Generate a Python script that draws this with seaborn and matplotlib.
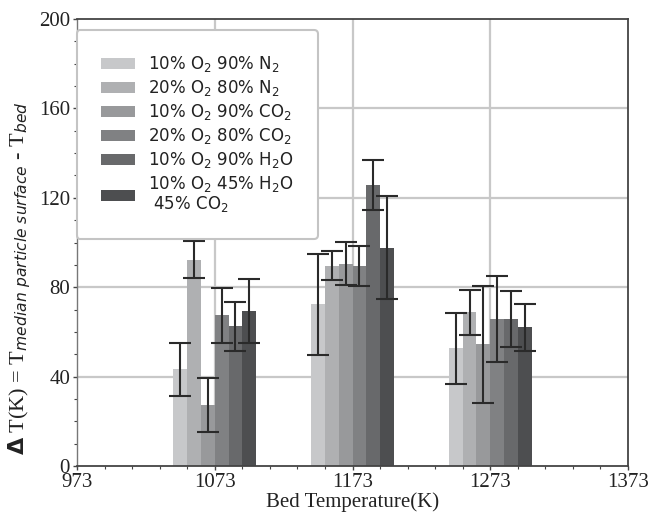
import matplotlib
matplotlib.use("Agg")
import matplotlib.pyplot as plt
import seaborn as sns
import pandas as pd
import numpy as np

# ---- data ----
temperatures = [1073, 1173, 1273]
gases = [
    r"10% O$_2$ 90% N$_2$",
    r"20% O$_2$ 80% N$_2$",
    r"10% O$_2$ 90% CO$_2$",
    r"20% O$_2$ 80% CO$_2$",
    r"10% O$_2$ 90% H$_2$O",
    "10% O$_2$ 45% H$_2$O\n 45% CO$_2$",
]
# mean delta T per gas, for 1073, 1173, 1273 K
means_n2_10 = [43.3, 72.3, 52.6]
means_n2_20 = [92.4, 89.6, 68.7]
means_co2_10 = [27.3, 90.6, 54.4]
means_co2_20 = [67.4, 89.6, 65.6]
means_h2o_10 = [62.5, 125.8, 65.6]
means_mix = [69.2, 97.7, 62.0]
# error (half-length of bars)
err_n2_10 = [11.8, 22.5, 15.9]
err_n2_20 = [8.4, 6.5, 10.0]
err_co2_10 = [12.0, 9.5, 26.0]
err_co2_20 = [12.2, 9.0, 19.2]
err_h2o_10 = [11.0, 11.3, 12.5]
err_mix = [14.3, 23.1, 10.6]

x_ticks = [973, 1073, 1173, 1273, 1373]
y_ticks = [0, 40, 80, 120, 160, 200]

all_means = [means_n2_10, means_n2_20, means_co2_10, means_co2_20, means_h2o_10, means_mix]
all_errs = [err_n2_10, err_n2_20, err_co2_10, err_co2_20, err_h2o_10, err_mix]

rows = []
for g, m in zip(gases, all_means):
    for t, v in zip(temperatures, m):
        rows.append({"T": t, "gas": g, "dT": v})
df = pd.DataFrame(rows)

colors = ["#c7c8ca", "#afb0b2", "#98999b", "#808183", "#68696b", "#4d4e50"]

sns.set_theme(style="white")
plt.rcParams["font.family"] = ["Liberation Serif", "DejaVu Serif"]
plt.rcParams["mathtext.fontset"] = "dejavusans"

fig = plt.figure(figsize=(6.53, 5.15), dpi=100)
ax = fig.add_axes([0.118, 0.0951, 0.8437, 0.868])

sns.barplot(data=df, x="T", y="dT", hue="gas", hue_order=gases, palette=colors,
            native_scale=True, width=0.6, errorbar=None, linewidth=0,
            saturation=1, ax=ax, zorder=2)

# error bars
n = len(gases)
for i, (m, e) in enumerate(zip(all_means, all_errs)):
    xs = [t + (i - (n - 1) / 2) * 10 for t in temperatures]
    ax.errorbar(xs, m, yerr=e, fmt="none", ecolor="#2a2a2a", elinewidth=1.5,
                capsize=8, capthick=1.5, zorder=3)

ax.set_xlim(973, 1373)
ax.set_ylim(0, 200)
ax.set_xticks(x_ticks)
ax.set_xticklabels([str(t) for t in x_ticks])
ax.set_yticks(y_ticks)
ax.set_yticklabels([str(v) for v in y_ticks])
ax.set_xticks(np.arange(973, 1374, 20), minor=True)
ax.set_yticks(np.arange(0, 201, 10), minor=True)
ax.tick_params(axis="both", which="major", labelsize=15, length=3, width=1,
               color="#444444", labelcolor="#222222", pad=2, direction="out")
ax.tick_params(axis="both", which="minor", length=2.5, width=0.8,
               color="#444444", direction="out")
ax.tick_params(bottom=True, left=True, which="both")

ax.set_axisbelow(True)
for t in [1073, 1173, 1273]:
    ax.axvline(t, color="#c8c8c8", lw=1.6, zorder=0)
for v in [40, 80, 120, 160]:
    ax.axhline(v, color="#c8c8c8", lw=1.6, zorder=0)

for s in ax.spines.values():
    s.set_color("#444444")
    s.set_linewidth(1.3)
ax.spines["left"].set_color("#777777")
ax.spines["left"].set_linewidth(1.0)

ax.set_xlabel("Bed Temperature(K)", fontsize=15, color="#222222", labelpad=0)
ax.set_ylabel(r"$\mathbf{\Delta}$ T(K) = T$_{median\ particle\ surface}$ - T$_{bed}$",
              fontsize=16, color="#222222")
ax.yaxis.set_label_coords(-0.08, 0.42)

handles, labels = ax.get_legend_handles_labels()
leg = ax.legend(handles, labels, loc="upper left", bbox_to_anchor=(0.0, 0.975),
                borderaxespad=0, handlelength=2.0, handleheight=0.7,
                handletextpad=0.8, borderpad=1.45, labelspacing=0.24,
                frameon=True, fancybox=True, prop={"family": "DejaVu Sans", "size": 12})
leg.get_frame().set_edgecolor("#c4c4c4")
leg.get_frame().set_linewidth(1.5)
leg.get_frame().set_facecolor("white")
leg.get_frame().set_alpha(1)
for txt in leg.get_texts():
    txt.set_color("#222222")
    txt.set_linespacing(1.0)

fig.savefig("out.png", dpi=100)
